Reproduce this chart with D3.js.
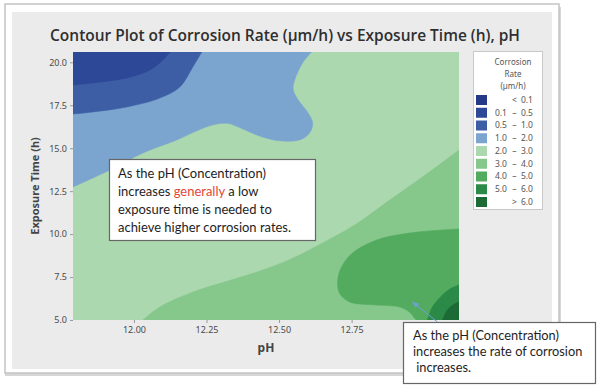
<!DOCTYPE html>
<html>
<head>
<meta charset="utf-8">
<script src="https://cdn.jsdelivr.net/npm/d3@7"></script>
<style>
  html, body { margin: 0; padding: 0; background: #fff; }
  svg { display: block; }
</style>
</head>
<body>
<svg id="chart" width="600" height="388"></svg>
<script>
// ---------- DATA ----------
const titleText = "Contour Plot of Corrosion Rate (\u00b5m/h) vs Exposure Time (h), pH";
const xLabel = "pH";
const yLabel = "Exposure Time (h)";
const phDomain = [11.79, 13.12];
const timeDomain = [5, 20.6];
const xTicks = [12.00, 12.25, 12.50, 12.75];
const yTicks = [5.0, 7.5, 10.0, 12.5, 15.0, 17.5, 20.0];

// legend classes (corrosion rate, µm/h)
const legendLow  = [null, 0.1, 0.5, 1.0, 2.0, 3.0, 4.0, 5.0, 6.0];
const legendHigh = [0.1, 0.5, 1.0, 2.0, 3.0, 4.0, 5.0, 6.0, null];
const legendTitle = ["Corrosion", "Rate", "(\u00b5m/h)"];

// contour boundaries, [pH, time]
const edge_0_5  = [[12.124,20.6],[12.10,20.13],[12.055,19.55],[11.976,19.09],[11.859,18.80],[11.79,18.68]];
const edge_1_0  = [[12.234,20.6],[12.203,19.73],[12.158,18.56],[12.089,17.92],[11.976,17.40],[11.859,17.11],[11.79,16.99]];
const edge_2_0  = [[12.612,20.6],[12.581,19.96],[12.554,18.97],[12.549,18.39],[12.571,17.69],[12.598,17.11],[12.616,16.47],[12.605,15.88],[12.571,15.48],[12.492,15.45],[12.423,15.77],[12.364,16.20],[12.320,16.45],[12.261,16.30],[12.148,15.48],[12.031,14.72],[11.917,13.73],[11.79,12.74]];
const edge_3_0  = [[12.031,5.0],[12.089,5.76],[12.203,6.63],[12.32,7.25],[12.433,7.85],[12.547,8.60],[12.64,9.40],[12.753,10.45],[12.891,12.10],[13.008,13.50],[13.12,14.90]];
const edge_4_0  = [[13.12,10.30],[13.063,10.24],[12.949,10.06],[12.836,9.66],[12.753,8.90],[12.715,8.08],[12.702,7.33],[12.708,6.57],[12.743,6.05],[12.836,5.87],[12.915,5.76],[12.949,5.47],[12.966,5.12],[12.973,5.0]];
const edge_5_0  = [[13.011,5.0],[13.028,5.76],[13.063,6.46],[13.094,6.86],[13.12,7.04]];
const edge_6_0  = [[13.063,5.0],[13.08,5.58],[13.104,5.93],[13.12,6.05]];

// each region: class index (into legend), boundary, closing corners
const regions = [
  { cls: 3, edge: edge_2_0, corners: [[11.79,20.6]] },
  { cls: 2, edge: edge_1_0, corners: [[11.79,20.6]] },
  { cls: 1, edge: edge_0_5, corners: [[11.79,20.6]] },
  { cls: 5, edge: edge_3_0, corners: [[13.12,5.0]] },
  { cls: 6, edge: edge_4_0, corners: [[13.12,5.0]] },
  { cls: 7, edge: edge_5_0, corners: [[13.12,5.0]] },
  { cls: 8, edge: edge_6_0, corners: [[13.12,5.0]] }
];
const baseClass = 4; // 2.0 - 3.0 fills the rest

const note1 = [
  [{t:"As the pH (Concentration)"}],
  [{t:"increases "},{t:"generally",red:true},{t:" a low"}],
  [{t:"exposure time is needed to"}],
  [{t:"achieve higher corrosion rates."}]
];
const note2 = [
  [{t:"As the pH (Concentration)"}],
  [{t:"increases the rate of corrosion"}],
  [{t:"\u00a0increases."}]
];
// arrow (data coords): tail -> head
const arrowPts = [[13.046, 4.88], [12.96, 6.05]];

// ---------- STYLE ----------
const colors = ["#243a88","#2d4896","#3d5ea5","#7ba5cf","#acd8b0","#86c78c","#53ab5f","#2b8a47","#1c6a36"];
const M = { left: 73, right: 459, top: 52, bottom: 320 };

const svg = d3.select("#chart");

// frame
svg.append("rect").attr("x",5).attr("y",7).attr("width",556).attr("height",369)
  .attr("fill","#d6d6d6");
svg.append("rect").attr("x",5).attr("y",4).attr("width",554).attr("height",369)
  .attr("fill","#fff").attr("stroke","#c4c4c4").attr("stroke-width",1.5);
svg.append("rect").attr("x",12).attr("y",12).attr("width",540).attr("height",357)
  .attr("fill","#ebebeb");

const x = d3.scaleLinear().domain(phDomain).range([M.left, M.right]);
const y = d3.scaleLinear().domain(timeDomain).range([M.bottom, M.top]);

// title
const title = svg.append("text").attr("x", 285).attr("y", 41)
  .attr("text-anchor","middle").attr("font-family","Open Sans, sans-serif").attr("font-weight",600)
  .attr("font-size", 16).attr("fill","#2f2f2f").text(titleText);
(function fit(){ const w = title.node().getComputedTextLength(); title.attr("font-size", 16*470/w); })();

// plot
svg.append("clipPath").attr("id","pclip").append("rect")
  .attr("x",M.left).attr("y",M.top).attr("width",M.right-M.left).attr("height",M.bottom-M.top);
const plot = svg.append("g").attr("clip-path","url(#pclip)");
plot.append("rect").attr("x",x(phDomain[0])).attr("y",y(timeDomain[1]))
  .attr("width",x(phDomain[1])-x(phDomain[0])).attr("height",y(timeDomain[0])-y(timeDomain[1]))
  .attr("fill",colors[baseClass]);

const curve = d3.line().x(d=>x(d[0])).y(d=>y(d[1])).curve(d3.curveCatmullRom.alpha(0.5));
plot.selectAll("path.reg").data(regions).join("path").attr("class","reg")
  .attr("d", r => curve(r.edge) + r.corners.map(c => "L" + x(c[0]) + "," + y(c[1])).join("") + "Z")
  .attr("fill", r => colors[r.cls]).attr("stroke", r => colors[r.cls]).attr("stroke-width",0.5);

// axes
const xAxis = svg.append("g").attr("transform",`translate(0,${M.bottom})`)
  .call(d3.axisBottom(x).tickValues(xTicks).tickFormat(d3.format(".2f")).tickSize(3).tickPadding(4));
const yAxis = svg.append("g").attr("transform",`translate(${M.left},0)`)
  .call(d3.axisLeft(y).tickValues(yTicks).tickFormat(d3.format(".1f")).tickSize(3).tickPadding(3));
[xAxis, yAxis].forEach(a => {
  a.select(".domain").remove();
  a.selectAll(".tick line").attr("stroke","#9a9a9a");
  a.selectAll(".tick text").attr("fill","#4a4a4a").attr("font-size",9).attr("font-family","Noto Sans, sans-serif");
});

svg.append("text").attr("x",(M.left+M.right)/2).attr("y",352).attr("text-anchor","middle")
  .attr("font-family","Noto Sans, sans-serif").attr("font-weight","bold").attr("font-size",12)
  .attr("fill","#444").text(xLabel);
svg.append("text").attr("transform",`translate(39,${(M.top+M.bottom)/2}) rotate(-90)`)
  .attr("text-anchor","middle").attr("font-family","Noto Sans, sans-serif").attr("font-weight","bold")
  .attr("font-size",11).attr("fill","#444").text(yLabel);

// legend
const lg = svg.append("g");
lg.append("rect").attr("x",473.5).attr("y",51.5).attr("width",69).attr("height",158)
  .attr("fill","#fff").attr("stroke","#c8c8c8");
legendTitle.forEach((t,i) => lg.append("text").attr("x",513).attr("y",65+i*12)
  .attr("text-anchor","middle").attr("font-family","Noto Sans, sans-serif").attr("font-size",8)
  .attr("fill","#555").text(t));
const rows = lg.selectAll("g.row").data(legendLow.map((l,i)=>({l, h:legendHigh[i], c:colors[i]})))
  .join("g").attr("class","row").attr("transform",(d,i)=>`translate(0,${100 + i*12.75})`);
rows.append("rect").attr("x",476).attr("y",-5).attr("width",11).attr("height",10).attr("fill",d=>d.c);
const lt = (sel) => sel.attr("font-family","Noto Sans, sans-serif").attr("font-size",8.5).attr("fill","#555").attr("dy","0.34em");
rows.append("text").call(lt).attr("x",507).attr("text-anchor","end").text(d => d.l===null ? "" : (d.h===null ? "" : d.l.toFixed(1)));
rows.append("text").call(lt).attr("x",514.5).attr("text-anchor","middle").text(d => d.l===null ? "<" : (d.h===null ? ">" : "\u2013"));
rows.append("text").call(lt).attr("x",533).attr("text-anchor","end").text(d => d.h===null ? d.l.toFixed(1) : d.h.toFixed(1));

// arrow
const defs = svg.append("defs");
defs.append("marker").attr("id","ah").attr("viewBox","0 0 10 10").attr("refX",9).attr("refY",5)
  .attr("markerWidth",7).attr("markerHeight",7).attr("orient","auto")
  .append("path").attr("d","M0,1L10,5L0,9Z").attr("fill","#6e9fd6");
svg.append("line").attr("x1",x(arrowPts[0][0])).attr("y1",y(arrowPts[0][1]))
  .attr("x2",x(arrowPts[1][0])).attr("y2",y(arrowPts[1][1]))
  .attr("stroke","#6e9fd6").attr("stroke-width",1).attr("marker-end","url(#ah)");

// annotation boxes
function note(lines, bx, by, bw, bh, tx, ty0, lh, targetW) {
  const g = svg.append("g");
  g.append("rect").attr("x",bx+0.5).attr("y",by+0.5).attr("width",bw).attr("height",bh)
    .attr("fill","#fff").attr("stroke","#666").attr("stroke-width",1.2);
  const texts = lines.map((ln,i) => {
    const t = g.append("text").attr("x",tx).attr("y",ty0+i*lh)
      .attr("font-family","Lato, sans-serif").attr("font-size",13).attr("fill","#1e1e1e");
    ln.forEach(s => t.append("tspan").attr("fill", s.red ? "#e5453b" : "#1e1e1e").text(s.t));
    return t;
  });
  const w = texts[0].node().getComputedTextLength();
  texts.forEach(t => t.attr("font-size", 13*targetW/w));
}
note(note1, 109, 159, 206, 81, 118, 178, 18, 148);
note(note2, 403, 322, 192, 61, 413, 340, 16, 146);
</script>
</body>
</html>
